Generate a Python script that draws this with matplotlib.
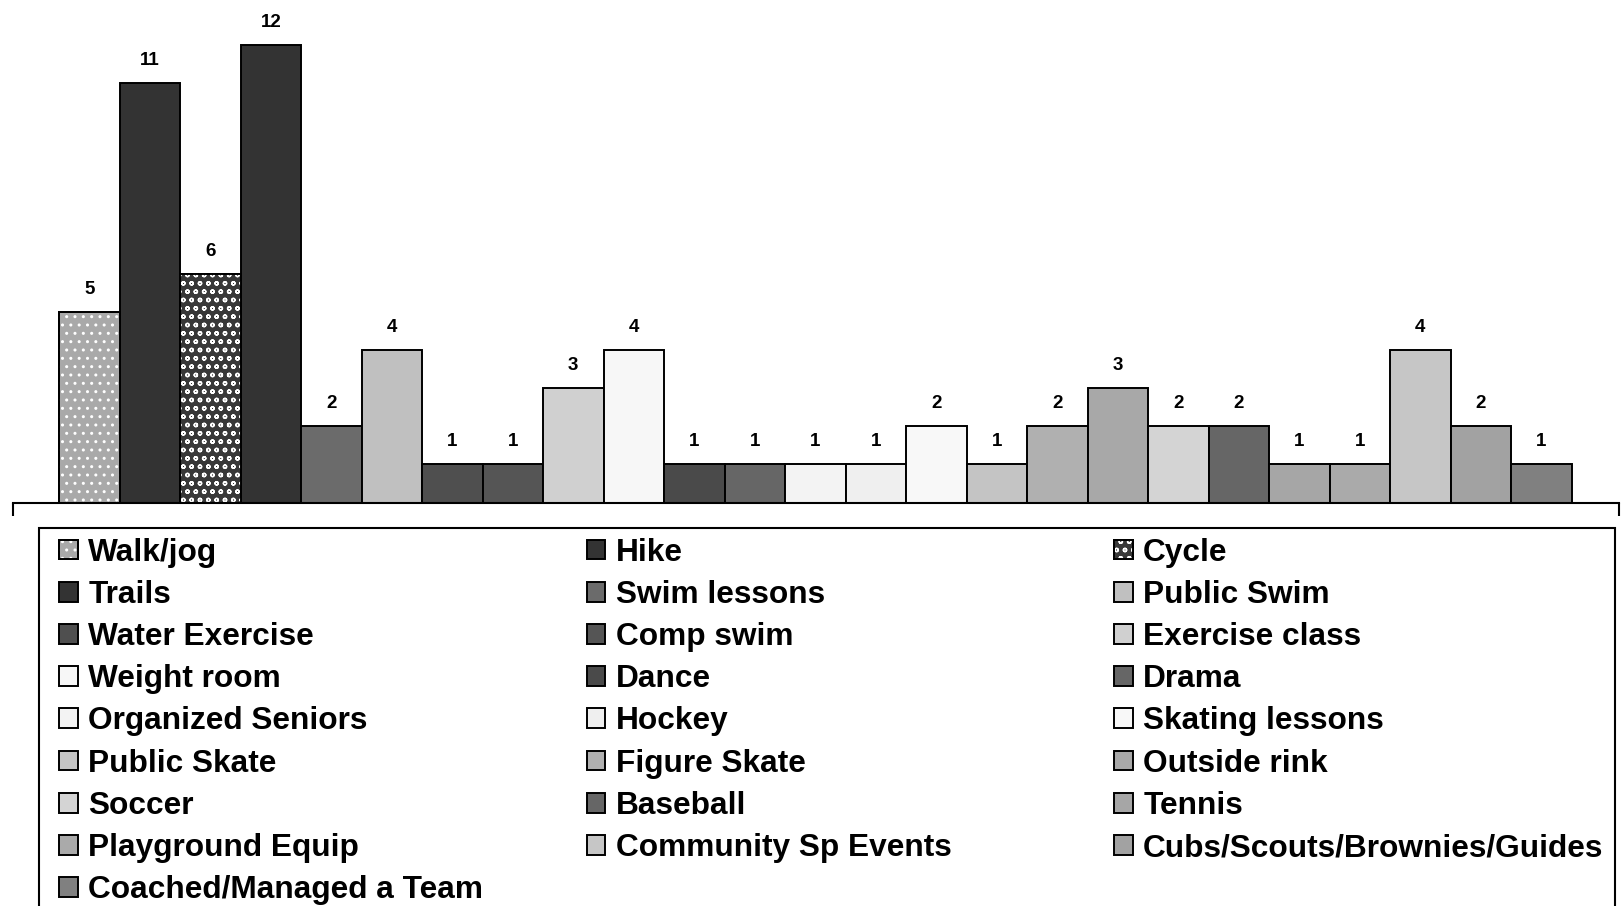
import numpy as np
import matplotlib
matplotlib.use("Agg")
import matplotlib.pyplot as plt
from matplotlib.patches import Rectangle
from matplotlib.legend_handler import HandlerTuple

plt.rcParams['font.family'] = ['Liberation Sans', 'DejaVu Sans']

### Data ###
activities = ["Walk/jog", "Hike", "Cycle", "Trails", "Swim lessons", "Public Swim",
              "Water Exercise", "Comp swim", "Exercise class", "Weight room", "Dance",
              "Drama", "Organized Seniors", "Hockey", "Skating lessons", "Public Skate",
              "Figure Skate", "Outside rink", "Soccer", "Baseball", "Tennis",
              "Playground Equip", "Community Sp Events", "Cubs/Scouts/Brownies/Guides",
              "Coached/Managed a Team"]
counts = [5, 11, 6, 12, 2, 4, 1, 1, 3, 4, 1, 1, 1, 1, 2, 1, 2, 3, 2, 2, 1, 1, 4, 2, 1]
greys = ["#a9a9a9", "#333333", "#383838", "#333333", "#6b6b6b", "#c0c0c0",
         "#4f4f4f", "#555555", "#d0d0d0", "#f7f7f7", "#4a4a4a", "#666666",
         "#f3f3f3", "#efefef", "#f8f8f8", "#c4c4c4", "#b0b0b0", "#a8a8a8",
         "#d4d4d4", "#666666", "#a6a6a6", "#aaaaaa", "#c6c6c6", "#a2a2a2", "#808080"]
hatches = {0: "..", 2: "oo"}		# textured fills (walk/jog dots, cycle balls)

### Plot ###
fig = plt.figure(figsize=(16.22, 9.06), dpi=100)
ax = fig.add_axes([0.00826, 0.4452, 0.9899, 0.5548])

x = np.arange(len(counts))
bars = ax.bar(x, counts, width=1.0, color=greys, edgecolor="black", linewidth=1.4, zorder=2)

handles = list(bars)
for i, h in hatches.items():		# overlay hatch in white on top of the grey fill
	ov = ax.bar(x[i], counts[i], width=1.0, color="none", edgecolor="white",
	            linewidth=0, hatch=h, zorder=2.5)[0]
	edge = ax.bar(x[i], counts[i], width=1.0, color="none", edgecolor="black",
	              linewidth=1.4, zorder=2.6)[0]
	handles[i] = (bars[i], ov, edge)

for xi, v in zip(x, counts):		# value labels
	ax.annotate(str(v), (xi, v), xytext=(0, 13), textcoords="offset points",
	            ha="center", va="baseline", fontsize=13.5, fontweight="bold")

ax.set_xlim(-1.254, 25.285)
ax.set_ylim(0, 13.17)
for s in ["top", "left", "right"]:
	ax.spines[s].set_visible(False)
ax.spines["bottom"].set_linewidth(1.5)
ax.set_xticks([-1.254, 25.285])
ax.set_xticklabels([])
ax.tick_params(axis="x", length=9, width=1.5, direction="out")
ax.set_yticks([])

### Legend: three columns, row-major order ###
col_x = [59 / 1622, 586.5 / 1622, 1114 / 1622]
for c in range(3):
	leg = fig.legend([handles[i] for i in range(c, len(activities), 3)],
	                 [activities[i] for i in range(c, len(activities), 3)],
	                 loc="upper left", bbox_to_anchor=(col_x[c], 0.4065),
	                 frameon=False, borderpad=0, borderaxespad=0,
	                 prop={"size": 22.8, "weight": "bold"},
	                 handlelength=0.59, handleheight=0.59, handletextpad=0.33,
	                 labelspacing=0.385,
	                 handler_map={tuple: HandlerTuple(ndivide=1, pad=0)})
	for p in leg.get_patches():
		p.set_linewidth(1.4)

fig.add_artist(Rectangle((39 / 1622, -0.2), (1615 - 39) / 1622, 0.2 + 1 - 527.5 / 906,
                         transform=fig.transFigure, fill=False, edgecolor="black",
                         linewidth=1.5, clip_on=False))

fig.savefig("out.png", dpi=100)
